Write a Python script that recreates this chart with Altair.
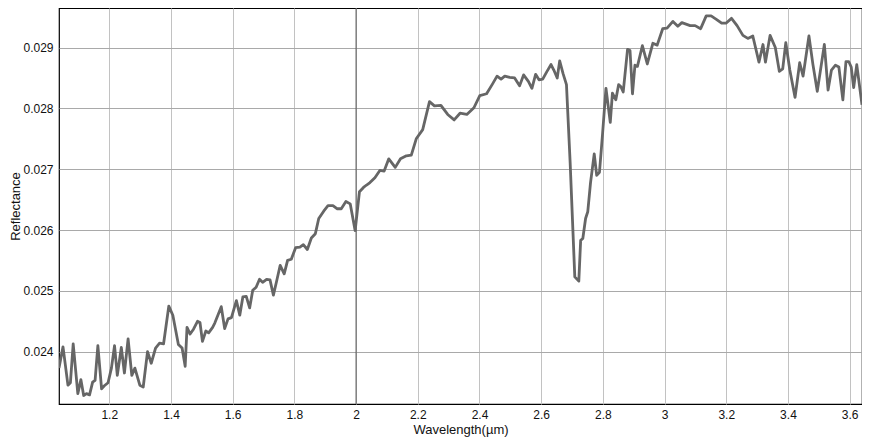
import altair as alt
import pandas as pd

wavelength = [
    1.037, 1.050, 1.066, 1.074, 1.083, 1.098, 1.108, 1.117, 1.126, 1.136,
    1.146, 1.154, 1.163, 1.175, 1.184, 1.196, 1.207, 1.217, 1.226, 1.239,
    1.249, 1.261, 1.273, 1.283, 1.299, 1.310, 1.324, 1.336, 1.350, 1.363,
    1.376, 1.393, 1.406, 1.424, 1.436, 1.446, 1.452, 1.462, 1.473, 1.486,
    1.494, 1.502, 1.513, 1.522, 1.535, 1.542, 1.563, 1.574, 1.585, 1.596,
    1.612, 1.623, 1.633, 1.644, 1.655, 1.665, 1.676, 1.687, 1.697, 1.710,
    1.721, 1.732, 1.742, 1.754, 1.767, 1.778, 1.790, 1.804, 1.818, 1.829,
    1.842, 1.855, 1.868, 1.879, 1.895, 1.909, 1.925, 1.938, 1.952, 1.967,
    1.981, 1.997, 2.011, 2.024, 2.034, 2.045, 2.061, 2.077, 2.091, 2.106,
    2.127, 2.144, 2.163, 2.179, 2.195, 2.216, 2.238, 2.254, 2.275, 2.297,
    2.318, 2.337, 2.359, 2.382, 2.401, 2.423, 2.441, 2.457, 2.470, 2.482,
    2.498, 2.514, 2.530, 2.543, 2.559, 2.570, 2.582, 2.593, 2.605, 2.618,
    2.632, 2.641, 2.652, 2.660, 2.671, 2.682, 2.694, 2.709, 2.722, 2.728,
    2.735, 2.744, 2.751, 2.760, 2.772, 2.780, 2.789, 2.799, 2.810, 2.824,
    2.831, 2.842, 2.851, 2.858, 2.866, 2.880, 2.888, 2.896, 2.904, 2.912,
    2.928, 2.944, 2.962, 2.976, 2.994, 3.008, 3.027, 3.043, 3.056, 3.083,
    3.099, 3.117, 3.135, 3.151, 3.169, 3.185, 3.199, 3.217, 3.235, 3.254,
    3.270, 3.286, 3.306, 3.319, 3.327, 3.342, 3.359, 3.372, 3.383, 3.393,
    3.406, 3.423, 3.438, 3.449, 3.468, 3.481, 3.495, 3.518, 3.530, 3.541,
    3.554, 3.565, 3.578, 3.588, 3.597, 3.605, 3.613, 3.623, 3.640,
]

reflectance = [
    0.02373, 0.02408, 0.02345, 0.02349, 0.02413, 0.02331, 0.02354, 0.02328, 0.02331, 0.02329,
    0.02350, 0.02353, 0.02410, 0.02339, 0.02344, 0.02349, 0.02373, 0.02410, 0.02361, 0.02407,
    0.02365, 0.02421, 0.02361, 0.02373, 0.02345, 0.02342, 0.02400, 0.02381, 0.02406, 0.02414,
    0.02413, 0.02475, 0.02460, 0.02412, 0.02406, 0.02376, 0.02440, 0.02429, 0.02437, 0.02450,
    0.02448, 0.02417, 0.02434, 0.02431, 0.02440, 0.02447, 0.02474, 0.02438, 0.02454, 0.02456,
    0.02484, 0.02460, 0.02490, 0.02491, 0.02472, 0.02501, 0.02506, 0.02519, 0.02514, 0.02519,
    0.02518, 0.02493, 0.02515, 0.02542, 0.02528, 0.02550, 0.02552, 0.02571, 0.02572, 0.02576,
    0.02568, 0.02587, 0.02594, 0.02619, 0.02631, 0.02640, 0.02640, 0.02635, 0.02635, 0.02647,
    0.02643, 0.02599, 0.02663, 0.02670, 0.02674, 0.02678, 0.02686, 0.02698, 0.02697, 0.02717,
    0.02703, 0.02717, 0.02722, 0.02723, 0.02750, 0.02765, 0.02811, 0.02804, 0.02805, 0.02790,
    0.02781, 0.02792, 0.02790, 0.02801, 0.02821, 0.02824, 0.02839, 0.02853, 0.02848, 0.02853,
    0.02851, 0.02850, 0.02837, 0.02855, 0.02844, 0.02833, 0.02856, 0.02847, 0.02848, 0.02860,
    0.02872, 0.02863, 0.02850, 0.02878, 0.02857, 0.02839, 0.02710, 0.02523, 0.02516, 0.02583,
    0.02586, 0.02619, 0.02630, 0.02678, 0.02725, 0.02690, 0.02695, 0.02758, 0.02833, 0.02777,
    0.02825, 0.02814, 0.02839, 0.02836, 0.02827, 0.02897, 0.02895, 0.02824, 0.02871, 0.02869,
    0.02903, 0.02873, 0.02907, 0.02904, 0.02931, 0.02932, 0.02943, 0.02935, 0.02941, 0.02936,
    0.02936, 0.02931, 0.02952, 0.02952, 0.02946, 0.02940, 0.02940, 0.02948, 0.02936, 0.02920,
    0.02915, 0.02919, 0.02876, 0.02905, 0.02876, 0.02920, 0.02900, 0.02861, 0.02865, 0.02908,
    0.02863, 0.02818, 0.02875, 0.02853, 0.02919, 0.02872, 0.02828, 0.02905, 0.02830, 0.02863,
    0.02871, 0.02868, 0.02814, 0.02877, 0.02877, 0.02868, 0.02834, 0.02872, 0.02806,
]

x_ticks = [1.2, 1.4, 1.6, 1.8, 2.0, 2.2, 2.4, 2.6, 2.8, 3.0, 3.2, 3.4, 3.6]
y_ticks = [0.024, 0.025, 0.026, 0.027, 0.028, 0.029]
x_domain = [1.037, 3.64]
y_domain = [0.02314, 0.02965]
marker_wavelength = [2.0]

df = pd.DataFrame({"wavelength": wavelength, "reflectance": reflectance})
marker_df = pd.DataFrame({"wavelength": marker_wavelength})

FONT = "Liberation Sans"

x_scale = alt.Scale(domain=x_domain, nice=False, zero=False)
y_scale = alt.Scale(domain=y_domain, nice=False, zero=False)

x_axis = alt.Axis(
    title="Wavelength(µm)", values=x_ticks, format="~g",
    grid=True, gridColor="#c2c2c2", gridWidth=1,
    ticks=False, domain=False, labelPadding=5,
    labelFont=FONT, labelFontSize=12, labelColor="#111",
    titleFont=FONT, titleFontSize=13, titleFontWeight="normal", titleColor="#111",
    titleY=29, titleBaseline="alphabetic",
)
y_axis = alt.Axis(
    title="Reflectance", values=y_ticks, format="~g",
    grid=True, gridColor="#a9a9a9", gridWidth=1,
    ticks=False, domain=False, labelPadding=6,
    labelFont=FONT, labelFontSize=12, labelColor="#111",
    titleFont=FONT, titleFontSize=13, titleFontWeight="normal", titleColor="#111",
    titleX=-40, titleBaseline="alphabetic",
)

marker = alt.Chart(marker_df).mark_rule(color="#555555", strokeWidth=1).encode(
    x=alt.X("wavelength:Q", scale=x_scale, axis=x_axis),
)

line = alt.Chart(df).mark_line(
    color="#666666", strokeWidth=2.8, clip=True, strokeJoin="round"
).encode(
    x=alt.X("wavelength:Q", scale=x_scale, axis=x_axis),
    y=alt.Y("reflectance:Q", scale=y_scale, axis=y_axis),
)

chart = alt.layer(marker, line).properties(
    width=803,
    height=396,
    autosize=alt.AutoSizeParams(type="none"),
    padding={"left": 51, "top": 0, "right": 0, "bottom": 35},
).configure_view(stroke="#000000", strokeWidth=1.2)

chart.save("out.html", embed_options={"renderer": "svg", "actions": False})
